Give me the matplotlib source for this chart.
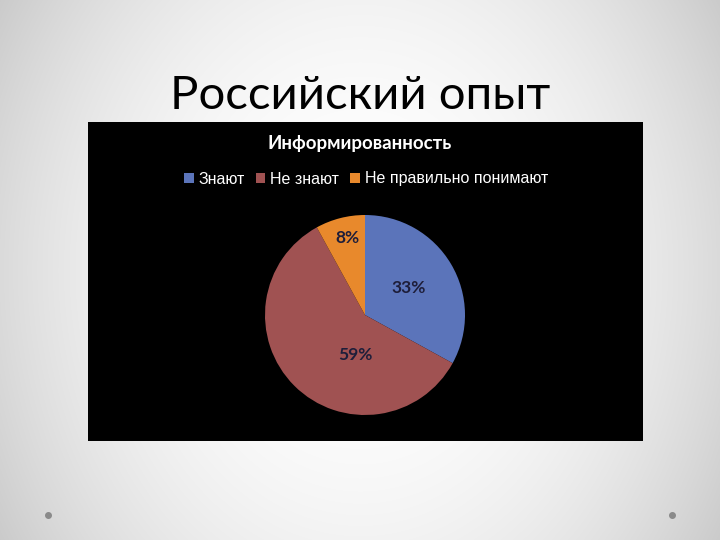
import numpy as np
import matplotlib
matplotlib.use("Agg")
import matplotlib.pyplot as plt

slide_title = "Российский опыт"
chart_title = "Информированность"
categories = ["Знают", "Не знают", "Не правильно понимают"]
values = [33, 59, 8]
labels = ["33%", "59%", "8%"]
colors = ["#5B74BA", "#A05252", "#E8892C"]
# label placement (radius fraction, angle in degrees) like the source chart
label_pos = [(0.51, 32), (0.41, -104), (0.79, 103)]

plt.rcParams['font.family'] = ['Lato', 'DejaVu Sans']

W, H = 720, 540
fig = plt.figure(figsize=(7.2, 5.4), dpi=100)

# background radial gradient
bg = fig.add_axes([0, 0, 1, 1])
yy, xx = np.mgrid[0:H, 0:W]
d = np.sqrt(((xx - W / 2) / (W * 0.58)) ** 2 + ((yy - H * 0.5) / (H * 0.95)) ** 2)
g = np.clip(1.0 - 0.2 * d ** 2.2, 0, 1)
bg.imshow(np.dstack([g, g, g]), extent=[0, W, H, 0], aspect='auto')
bg.set_xlim(0, W)
bg.set_ylim(H, 0)
bg.axis('off')
for x in (48, 672):
    bg.plot([x], [515], 'o', color='#8a8a8a', markersize=4)

fig.text(360 / W, 1 - 96 / H, slide_title, ha='center', va='center',
         fontsize=34, color='black')

# black chart area
box = fig.add_axes([88 / W, 1 - 441 / H, 555 / W, 319 / H])
box.set_facecolor('black')
box.set_xticks([])
box.set_yticks([])
for s in box.spines.values():
    s.set_visible(False)

fig.text(360 / W, 1 - 144 / H, chart_title, ha='center', va='center',
         fontsize=13.5, fontweight='bold', color='white')

ax = fig.add_axes([265 / W, 1 - 415 / H, 200 / W, 200 / H])
wedges, _ = ax.pie(values, colors=colors, startangle=90, counterclock=False,
                   radius=1, wedgeprops=dict(linewidth=0))
ax.set_xlim(-1, 1)
ax.set_ylim(-1, 1)
ax.set_aspect('equal')
ax.axis('off')
for lab, (r, a) in zip(labels, label_pos):
    t = np.deg2rad(a)
    ax.text(r * np.cos(t), r * np.sin(t), lab, ha='center', va='center',
            fontsize=12.5, fontweight='bold', color='#1e1e3a')

leg = fig.legend(wedges, categories, loc='center', bbox_to_anchor=(366 / W, 1 - 179 / H),
                 ncol=3, frameon=False, handlelength=0.6, handleheight=0.6,
                 handletextpad=0.3, columnspacing=0.7,
                 prop={'family': ['Liberation Sans', 'DejaVu Sans'], 'size': 11.5})
for t in leg.get_texts():
    t.set_color('white')

fig.savefig('out.png', dpi=100)
